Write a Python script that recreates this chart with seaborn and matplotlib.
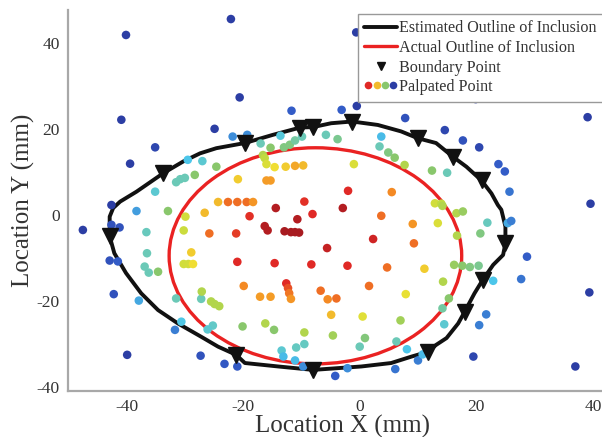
import numpy as np
import pandas as pd
import matplotlib
matplotlib.use("Agg")
import matplotlib.pyplot as plt
import seaborn as sns
from matplotlib.lines import Line2D
from matplotlib.patches import Ellipse
from matplotlib.legend_handler import HandlerTuple
from matplotlib.colors import LinearSegmentedColormap

# Palpated points: location (mm) and normalised stiffness response (0..1)
palp_x = [-40.1, -22.1, -20.6, -40.9, -24.9, -35.1, -39.4, -21.8, -19.3, -29.5, -27.0, -24.6, -28.3,
          -30.8, -30.0, -31.5, -35.1, -20.9, -24.3, -22.6, -21.0, -19.4, -18.3, -18.9, -14.4, -42.6,
          -38.3, -32.9, -29.9, -26.6, -47.5, -42.6, -41.2, -36.6, -30.2, -25.8, -21.2, -36.5, -28.9,
          -42.9, -41.5, -36.9, -36.2, -34.6, -30.2, -29.4, -28.6, -21.0, -19.9, -42.2, -37.9, -31.5,
          -27.2, -27.1, -25.5, -24.9, -24.1, -30.6, -31.7, -25.2, -26.1, -20.1, -39.9, -27.3, -23.2,
          -21.0,
          -9.5, -8.1, -10.7, -2.9, 3.7, 9.1, -16.3, -15.8, -12.9, -11.8, -11.1, -10.4, 2.3, 9.3, -5.6,
          -14.6, -8.3, -2.1, 4.7, 11.1, -12.6, -12.3, -12.1, -11.8, -17.1, -15.3, -6.7, -5.5, -4.0,
          1.6, 7.9, -4.9, 0.5, 7.0, -16.2, -14.7, -9.5, -4.6, 0.9, 0.0, 6.3, -13.4, -13.1, -10.9,
          -9.5, -11.1, -9.7, -4.2, -2.1, 6.1, 8.1, 10.0, 10.8,
          12.9, 14.0, 14.2, 16.6, 17.7, 13.4, 21.9, 20.7, 16.7, 25.4, 26.0, 39.6, 28.7, 16.2, 17.6,
          18.9, 20.4, 14.3, 22.9, 27.7, 39.4, 15.3, 14.2, 21.7, 20.5, 14.5, 19.5, 37.0,
          -0.6, -11.7, -3.1, -0.5, 7.8, -17.0, -13.6, -15.3, -13.0, -12.0, -11.1, -9.9, -5.8, -3.8,
          3.7, 3.4, 4.9, 6.0, 7.7, -16.6, -16.3, -16.0, -14.6, -12.7, -11.1, -9.7, -1.0, -16.0,
          -15.3, -2.0, 5.5, 19.9, 39.1, 14.6, 17.7, 20.5, 23.8, 24.9, 25.7, 12.4, 15.0]
palp_y = [41.8, 45.5, 27.3, 22.1, 20.0, 15.7, 11.9, 18.2, 18.6, 12.8, 12.5, 11.2, 9.3,
          8.3, 8.6, 7.6, 5.4, 8.3, 3.0, 3.0, 3.0, 3.0, 3.0, -0.3, 1.6, 2.3,
          0.9, 0.9, -0.4, 0.5, -3.5, -2.3, -2.9, -4.0, -3.6, -4.3, -4.3, -8.9, -8.7,
          -10.6, -10.8, -12.0, -13.4, -13.2, -11.4, -11.4, -11.4, -10.9, -16.5, -18.4, -19.9, -19.4,
          -19.5, -17.8, -20.1, -20.7, -21.2, -24.8, -26.7, -25.7, -26.6, -25.9, -32.5, -32.7, -34.6,
          -35.2,
          3.1, 0.2, -1.0, 1.6, -0.2, -2.1, -2.6, -3.6, -3.8, -4.0, -4.0, -4.1, -5.6, -6.6, -7.7,
          -11.2, -11.5, -11.8, -12.2, -12.5, -15.9, -17.0, -18.2, -19.5, -19.0, -19.0, -17.6, -19.6, -19.4,
          -16.5, -18.4, -23.2, -23.6, -24.5, -25.2, -26.7, -27.3, -28.0, -28.6, -30.6, -29.4, -31.5, -32.9, -30.8,
          -30.0, -33.8, -35.2, -37.4, -35.6, -35.8, -31.2, -33.8, -32.4,
          2.7, 2.6, 2.1, 0.4, 0.8, -1.9, -1.8, -4.3, -4.8, -1.9, -1.4, 2.6, -9.7, -11.6, -11.8,
          -12.1, -11.8, -15.5, -15.3, -14.9, -18.0, -19.4, -21.7, -23.1, -25.6, -25.4, -32.9, -35.2,
          42.4, 24.2, 24.4, 25.3, 22.5, 16.6, 18.4, 15.6, 15.7, 16.3, 17.3, 18.2, 18.6, 17.6,
          18.2, 15.9, 14.5, 13.3, 11.6, 13.9, 13.2, 11.8, 11.1, 11.2, 11.4, 11.5, 11.8, 8.0,
          8.0, 5.6, 5.3, 26.9, 22.7, 19.7, 17.3, 15.7, 11.8, 10.1, 5.4, 10.3, 9.8]
palp_v = [0.05, 0.05, 0.05, 0.05, 0.05, 0.08, 0.05, 0.25, 0.25, 0.35, 0.40, 0.55, 0.55,
          0.45, 0.45, 0.45, 0.40, 0.70, 0.72, 0.80, 0.80, 0.80, 0.76, 0.86, 0.95, 0.05,
          0.28, 0.55, 0.64, 0.72, 0.05, 0.12, 0.12, 0.44, 0.63, 0.80, 0.85, 0.45, 0.70,
          0.12, 0.15, 0.45, 0.45, 0.55, 0.64, 0.64, 0.68, 0.87, 0.77, 0.12, 0.30, 0.45,
          0.45, 0.60, 0.60, 0.60, 0.60, 0.36, 0.22, 0.42, 0.40, 0.55, 0.05, 0.12, 0.14,
          0.14,
          0.86, 0.87, 0.95, 0.95, 0.80, 0.76, 0.95, 0.95, 0.97, 0.97, 0.97, 0.97, 0.90, 0.80, 0.92,
          0.87, 0.87, 0.87, 0.80, 0.70, 0.87, 0.83, 0.79, 0.76, 0.75, 0.75, 0.80, 0.77, 0.80,
          0.80, 0.67, 0.72, 0.66, 0.58, 0.60, 0.55, 0.60, 0.58, 0.53, 0.45, 0.45, 0.40, 0.33, 0.43,
          0.43, 0.33, 0.25, 0.15, 0.25, 0.20, 0.35, 0.22, 0.33,
          0.64, 0.62, 0.60, 0.60, 0.57, 0.65, 0.44, 0.52, 0.60, 0.30, 0.22, 0.05, 0.15, 0.57, 0.55,
          0.52, 0.50, 0.60, 0.35, 0.20, 0.05, 0.55, 0.48, 0.22, 0.22, 0.40, 0.08, 0.05,
          0.05, 0.15, 0.15, 0.05, 0.12, 0.45, 0.38, 0.55, 0.52, 0.52, 0.48, 0.45, 0.45, 0.50,
          0.33, 0.45, 0.52, 0.55, 0.60, 0.60, 0.62, 0.65, 0.68, 0.70, 0.74, 0.72, 0.65, 0.75,
          0.75, 0.87, 0.77, 0.05, 0.05, 0.08, 0.12, 0.08, 0.15, 0.15, 0.20, 0.55, 0.45]

# Estimated outline of the inclusion (closed path, mm)
outline_x = [-42.9, -42.9, -42.3, -41.1, -38.3, -33.7, -30.3, -27.4, -24.6, -19.7, -14.9, -10.2,
             -8.0, -4.9, -1.3, 3.1, 7.1, 10.0, 13.1, 16.0, 18.3, 20.9, 22.6, 23.7, 24.3, 25.0,
             25.0, 24.6, 22.9, 21.1, 19.7, 18.0, 16.9, 14.9, 13.1, 11.7, 8.9, 5.4, 0.3, -8.0,
             -14.0, -19.7, -21.2, -24.3, -27.2, -31.2, -34.6, -37.5, -40.1, -42.1, -42.9]
outline_y = [-5.0, -0.4, 1.6, 3.1, 5.4, 9.7, 12.4, 14.3, 15.5, 16.7, 18.6, 20.3,
             20.4, 21.3, 21.7, 20.9, 19.4, 17.8, 16.7, 13.5, 11.2, 8.0, 5.0, 2.3, 1.2, -2.7,
             -6.6, -9.3, -11.6, -15.1, -18.2, -22.5, -25.2, -28.6, -30.2, -31.8, -32.9, -34.4, -35.2, -36.0,
             -35.2, -34.4, -32.5, -30.6, -28.3, -25.2, -22.1, -18.2, -13.5, -8.9, -5.0]

# Boundary points found along the outline (mm)
boundary_x = [-42.9, -33.7, -19.7, -10.2, -8.0, -1.3, 10.0, 16.0, 20.9, 25.0, 21.1, 18.0, 11.7, -8.0, -21.2]
boundary_y = [-5.0, 9.7, 16.7, 20.3, 20.4, 21.7, 17.8, 13.5, 8.0, -6.6, -15.1, -22.5, -31.8, -36.0, -32.5]

# Actual inclusion: centre (mm) and radius (mm)
actual_center = (-7.6, -9.5)
actual_radius = 25.1

sns.set_style("white")
plt.rcParams["font.family"] = ["Liberation Serif", "DejaVu Serif"]
plt.rcParams["axes.unicode_minus"] = False

# Soft jet-like scale from deep blue (low response) to dark red (high response)
stiff_cmap = LinearSegmentedColormap.from_list("stiffness", [
    (0.00, (0.16, 0.19, 0.58)),
    (0.15, (0.20, 0.36, 0.78)),
    (0.25, (0.24, 0.55, 0.85)),
    (0.35, (0.30, 0.78, 0.92)),
    (0.45, (0.42, 0.79, 0.72)),
    (0.55, (0.54, 0.78, 0.42)),
    (0.62, (0.76, 0.86, 0.25)),
    (0.68, (0.94, 0.88, 0.20)),
    (0.77, (0.96, 0.55, 0.14)),
    (0.87, (0.88, 0.16, 0.15)),
    (1.00, (0.60, 0.09, 0.12)),
])

fig = plt.figure(figsize=(6.02, 4.37), dpi=100)
ax = fig.add_axes([68.3 / 602, 46 / 437, (601 - 68.3) / 602, (391 - 10) / 437])

ax.add_patch(Ellipse(actual_center, 2 * actual_radius, 2 * actual_radius, fill=False,
                     edgecolor="#ea2222", linewidth=2.4, zorder=2))
ax.plot(outline_x, outline_y, color="#111111", linewidth=2.8, zorder=3,
        solid_joinstyle="round")

df = pd.DataFrame({"x": palp_x, "y": palp_y, "v": palp_v})
sns.scatterplot(data=df, x="x", y="y", hue="v", palette=stiff_cmap, hue_norm=(0, 1),
                s=38, linewidth=0, legend=False, ax=ax, zorder=4)

ax.plot(boundary_x, boundary_y, linestyle="none", marker="v", markersize=12,
        color="#111111", zorder=5)

ax.set_xlim(-50, 41.4)
ax.set_ylim(-40.9, 47.6)
ax.set_xticks([-40, -20, 0, 20, 40])
ax.set_yticks([-40, -20, 0, 20, 40])

for side in ["top", "right"]:
    ax.spines[side].set_visible(False)
for side in ["left", "bottom"]:
    ax.spines[side].set_color("#a8a8a8")
    ax.spines[side].set_linewidth(1.6)
ax.tick_params(direction="in", length=4, width=1, color="#a8a8a8",
               labelsize=12.5, labelcolor="#333333", pad=6)

ax.set_xlabel("Location X (mm)", fontsize=18, color="#333333")
ax.xaxis.set_label_coords(0.515, -0.062)
ax.set_ylabel("Location Y (mm)", fontsize=18, color="#333333", labelpad=1)

dot_handles = tuple(
    Line2D([], [], linestyle="none", marker="o", markersize=5.5, markeredgewidth=0,
           color=stiff_cmap(v)) for v in (0.87, 0.72, 0.55, 0.05))
handles = [
    Line2D([], [], color="#111111", linewidth=2.8),
    Line2D([], [], color="#ea2222", linewidth=2.4),
    Line2D([], [], linestyle="none", marker="v", markersize=6, color="#111111"),
    dot_handles,
]
labels = ["Estimated Outline of Inclusion", "Actual Outline of Inclusion",
          "Boundary Point", "Palpated Point"]
leg = ax.legend(handles, labels, loc="upper left",
                bbox_to_anchor=(358 / 602, 1 - 14 / 437), bbox_transform=fig.transFigure,
                borderaxespad=0, borderpad=0.4, handlelength=2.0, handletextpad=0.15,
                labelspacing=0.22, fontsize=11.6, frameon=True, fancybox=False,
                framealpha=1, edgecolor="#999999",
                handler_map={tuple: HandlerTuple(ndivide=None, pad=0.0)})
leg.get_frame().set_linewidth(1.0)
leg.set_zorder(10)
for t in leg.get_texts():
    t.set_color("#333333")

fig.savefig("out.png", dpi=100, facecolor="white")
